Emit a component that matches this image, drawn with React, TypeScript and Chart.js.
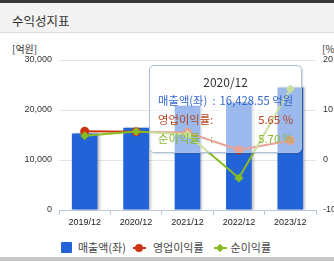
import React, { useEffect, useRef } from "react";
import { Chart, registerables } from "chart.js";

Chart.register(...registerables);

const categories = ["2019/12", "2020/12", "2021/12", "2022/12", "2023/12"];
const salesValues = [15320, 16428.55, 20860, 21520, 24520];
const operatingMargin = [5.75, 5.65, 5.5, 2.0, 3.9];
const netMargin = [4.85, 5.7, 5.1, -3.6, 14.2];
const leftTicks = [0, 10000, 20000, 30000];
const rightTicks = [-10, 0, 10, 20];
const seriesNames = ["매출액(좌)", "영업이익률", "순이익률"];
const seriesUnits = ["억원", "%", "%"];
const activeIndex = 1;

const BAR_COLOR = "#2264d8";
const RED = "#cc3311";
const GREEN = "#88bb22";
const KFONT = "'Noto Sans CJK KR', 'Noto Sans', sans-serif";
const NFONT = "'Liberation Sans', Arial, sans-serif";

const barShadow = {
  id: "barShadow",
  beforeDatasetDraw(chart: any, args: any) {
    if (args.index === 0) {
      const ctx = chart.ctx;
      ctx.save();
      ctx.shadowColor = "rgba(0,0,0,0.22)";
      ctx.shadowBlur = 2;
      ctx.shadowOffsetX = 2;
      ctx.shadowOffsetY = 0;
    }
  },
  afterDatasetDraw(chart: any, args: any) {
    if (args.index === 0) chart.ctx.restore();
  },
};

export default function App() {
  const canvasRef = useRef<HTMLCanvasElement | null>(null);
  const tipRef = useRef<HTMLDivElement | null>(null);

  useEffect(() => {
    const canvas = canvasRef.current!;
    const tickFont = { family: NFONT, size: 9 };
    const chart = new Chart(canvas, {
      type: "bar",
      data: {
        labels: categories,
        datasets: [
          {
            type: "bar",
            label: seriesNames[0],
            data: salesValues,
            backgroundColor: BAR_COLOR,
            borderWidth: 0,
            barPercentage: 0.5,
            categoryPercentage: 1,
            yAxisID: "y",
            order: 3,
          } as any,
          {
            type: "line",
            label: seriesNames[1],
            data: operatingMargin,
            borderColor: RED,
            backgroundColor: RED,
            borderWidth: 2,
            pointStyle: "circle",
            pointRadius: 4.5,
            pointBorderWidth: 0,
            pointBackgroundColor: RED,
            yAxisID: "y1",
            tension: 0,
            order: 2,
          } as any,
          {
            type: "line",
            label: seriesNames[2],
            data: netMargin,
            borderColor: GREEN,
            backgroundColor: GREEN,
            borderWidth: 2,
            pointStyle: "rectRot",
            pointRadius: 4.5,
            pointBorderWidth: 0,
            pointBackgroundColor: GREEN,
            yAxisID: "y1",
            tension: 0,
            order: 1,
          } as any,
        ],
      },
      options: {
        responsive: false,
        animation: false,
        events: [],
        layout: { padding: { top: 27, left: 0, right: 0, bottom: 0 } },
        plugins: {
          legend: { display: false },
          tooltip: {
            enabled: false,
            mode: "index",
            intersect: false,
            external: (ctx: any) => {
              const { chart: c, tooltip } = ctx;
              const el = tipRef.current;
              if (!el) return;
              if (tooltip.opacity === 0 || !tooltip.dataPoints || !tooltip.dataPoints.length) {
                el.style.display = "none";
                return;
              }
              const idx = tooltip.dataPoints[0].dataIndex;
              const colors = ["#3366cc", "#b8441e", "#86b92e"];
              const vals = [
                salesValues[idx].toLocaleString("en-US", { minimumFractionDigits: 2, maximumFractionDigits: 2 }),
                operatingMargin[idx].toFixed(2),
                netMargin[idx].toFixed(2),
              ];
              let rows = "";
              for (let i = 0; i < seriesNames.length; i++) {
                rows +=
                  `<tr style="color:${colors[i]}">` +
                  `<td style="padding:0;white-space:nowrap;text-align:left">${seriesNames[i]}</td>` +
                  `<td style="padding:0 1px 0 0;white-space:nowrap">${i === 0 ? "&nbsp;:" : ":"}</td>` +
                  `<td style="padding:0;white-space:nowrap;text-align:right;width:100%">${vals[i]} ${seriesUnits[i]}</td>` +
                  `</tr>`;
              }
              el.innerHTML =
                `<div style="text-align:center;color:#333;font-size:12px">${categories[idx]}</div>` +
                `<table style="border-collapse:collapse;width:100%;font-size:11.3px;line-height:19px">${rows}</table>`;
              el.style.display = "block";
              el.style.left = c.canvas.offsetLeft + tooltip.caretX + 13 + "px";
              el.style.top = c.canvas.offsetTop + c.chartArea.top + 5 + "px";
            },
          },
        },
        scales: {
          x: {
            type: "category",
            offset: true,
            grid: {
              display: true,
              drawOnChartArea: false,
              drawTicks: true,
              tickLength: 5,
              color: "#b9c9dc",
              offset: true,
            },
            border: { display: true, color: "#b9c9dc" },
            ticks: { font: tickFont, color: "#222", padding: 2, maxRotation: 0 },
            afterFit: (s: any) => {
              s.height = 24;
            },
          },
          y: {
            type: "linear",
            position: "left",
            min: leftTicks[0],
            max: leftTicks[leftTicks.length - 1],
            afterBuildTicks: (s: any) => {
              s.ticks = leftTicks.map((v) => ({ value: v }));
            },
            grid: { color: "#e4e4e4", drawTicks: false },
            border: { display: false },
            ticks: {
              font: tickFont,
              color: "#333",
              padding: 7,
              callback: (v: any) => Number(v).toLocaleString("en-US"),
            },
            afterFit: (s: any) => {
              s.width = 59;
            },
          },
          y1: {
            type: "linear",
            position: "right",
            min: rightTicks[0],
            max: rightTicks[rightTicks.length - 1],
            afterBuildTicks: (s: any) => {
              s.ticks = rightTicks.map((v) => ({ value: v }));
            },
            grid: { drawOnChartArea: false, drawTicks: false },
            border: { display: false },
            ticks: { font: tickFont, color: "#333", padding: 7 },
            afterFit: (s: any) => {
              s.width = 18;
            },
          },
        },
      },
      plugins: [barShadow],
    } as any);

    chart.tooltip!.setActiveElements(
      [0, 1, 2].map((d) => ({ datasetIndex: d, index: activeIndex })),
      { x: 0, y: 0 }
    );
    chart.update();

    return () => {
      chart.destroy();
    };
  }, []);

  const legendText: React.CSSProperties = {
    fontSize: 11,
    color: "#444",
    fontFamily: KFONT,
    lineHeight: "13px",
    whiteSpace: "nowrap",
  };

  return (
    <div
      style={{
        position: "fixed",
        left: 0,
        top: 0,
        width: 334,
        height: 261,
        background: "#fff",
        overflow: "hidden",
        fontFamily: KFONT,
      }}
    >
      <div style={{ position: "absolute", left: 0, top: 0, width: 334, height: 3, background: "#383838" }} />
      <div
        style={{
          position: "absolute",
          left: 0,
          top: 3,
          width: 334,
          height: 29,
          background: "#f3f3f3",
          borderBottom: "1px solid #dcdcdc",
        }}
      >
        <span
          style={{
            position: "absolute",
            left: 12,
            top: 3,
            fontSize: 12.5,
            lineHeight: "29px",
            color: "#333",
            whiteSpace: "nowrap",
          }}
        >
          수익성지표
        </span>
      </div>
      <div style={{ position: "absolute", left: 12, top: 42, fontSize: 10, lineHeight: "13px", color: "#333" }}>
        [억원]
      </div>
      <div style={{ position: "absolute", left: 322, top: 42, fontSize: 10, lineHeight: "13px", color: "#333" }}>
        [%]
      </div>
      <canvas
        ref={canvasRef}
        width={334}
        height={201}
        style={{ position: "absolute", left: 0, top: 33, width: 334, height: 201, display: "block" }}
      />
      <div
        ref={tipRef}
        style={{
          position: "absolute",
          display: "none",
          boxSizing: "border-box",
          width: 153,
          padding: "6px 8px 4px 8px",
          border: "1px solid #a9c0dd",
          borderRadius: 5,
          background: "rgba(255,255,255,0.55)",
          boxShadow: "1px 1px 2px rgba(0,0,0,0.15)",
          fontSize: 12,
          lineHeight: "19px",
          fontFamily: KFONT,
          pointerEvents: "none",
        }}
      />
      <div style={{ position: "absolute", left: 61, top: 241, height: 13, display: "flex", alignItems: "center" }}>
        <span style={{ width: 11, height: 11, background: BAR_COLOR, display: "inline-block", borderRadius: 1 }} />
        <span style={{ ...legendText, marginLeft: 6 }}>{seriesNames[0]}</span>
        <span style={{ position: "relative", width: 13, height: 11, marginLeft: 7, display: "inline-block" }}>
          <span style={{ position: "absolute", left: 0, top: 4.5, width: 13, height: 2, background: RED }} />
          <span
            style={{
              position: "absolute",
              left: 2.5,
              top: 1.5,
              width: 8,
              height: 8,
              borderRadius: 4,
              background: RED,
            }}
          />
        </span>
        <span style={{ ...legendText, marginLeft: 7 }}>{seriesNames[1]}</span>
        <span style={{ position: "relative", width: 13, height: 11, marginLeft: 10, display: "inline-block" }}>
          <span style={{ position: "absolute", left: 0, top: 4.5, width: 13, height: 2, background: GREEN }} />
          <span
            style={{
              position: "absolute",
              left: 3.5,
              top: 2.5,
              width: 6,
              height: 6,
              background: GREEN,
              transform: "rotate(45deg)",
            }}
          />
        </span>
        <span style={{ ...legendText, marginLeft: 4 }}>{seriesNames[2]}</span>
      </div>
      <div style={{ position: "absolute", left: 0, top: 257, width: 334, height: 4, background: "#c8c8c8" }} />
    </div>
  );
}
